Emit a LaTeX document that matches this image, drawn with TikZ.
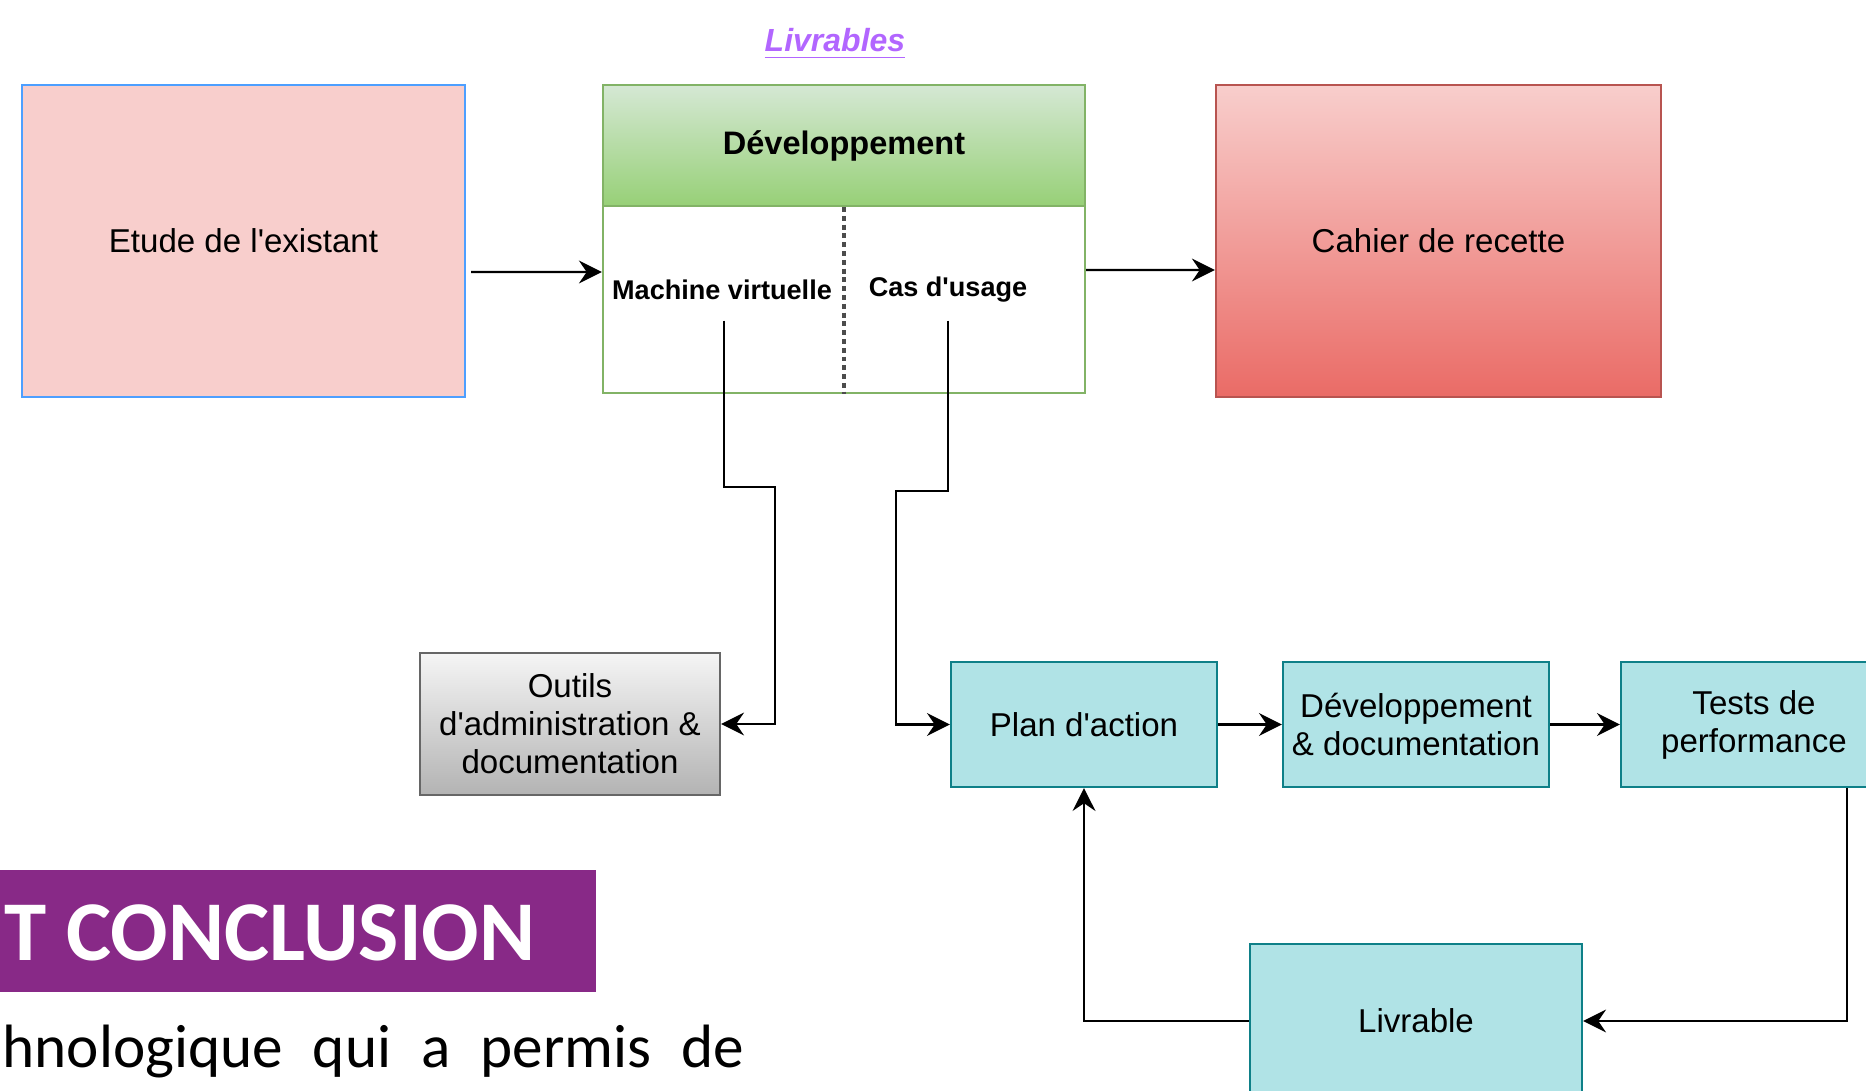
\documentclass[tikz,border=0pt]{standalone}
\usepackage{fontspec}
\setmainfont{Liberation Sans}
\newfontfamily\slidefont{Carlito}
\usetikzlibrary{arrows.meta,%
                calc}

\definecolor{etudefill}{HTML}{F8CECC}
\definecolor{etudeline}{HTML}{4D9FFF}
\definecolor{devline}{HTML}{82B366}
\definecolor{devtop}{HTML}{D5E8D4}
\definecolor{devbot}{HTML}{97D077}
\definecolor{cahline}{HTML}{B85450}
\definecolor{cahtop}{HTML}{F8CECC}
\definecolor{cahbot}{HTML}{EA6B66}
\definecolor{outline}{HTML}{666666}
\definecolor{outtop}{HTML}{F5F5F5}
\definecolor{outbot}{HTML}{B3B3B3}
\definecolor{tealfill}{HTML}{B0E3E6}
\definecolor{tealline}{HTML}{0E8088}
\definecolor{livrcol}{HTML}{B266FF}
\definecolor{bandeau}{HTML}{882987}

\tikzset{
  box/.style={draw, rectangle, inner sep=0pt, align=center, line width=.6pt,
              font=\fontsize{9.4}{10.8}\selectfont},
  tealbox/.style={box, fill=tealfill, draw=tealline,
                  minimum width=2.66cm, minimum height=1.25cm},
  lien/.style={line width=.7pt, -{Stealth[length=6.5pt,width=6.5pt,inset=2.2pt]}},
  souscol/.style={font=\bfseries\fontsize{7.7}{9}\selectfont,
                  minimum height=.6cm, inner sep=0pt}
}

\begin{document}
\begin{tikzpicture}[x=.01cm,y=-.01cm]
      \useasboundingbox (0,0) rectangle (1866,1091);
      \clip (0,0) rectangle (1866,1091);

      \node (titre) at (835,52) [anchor=base, text=livrcol,
        font=\bfseries\itshape\fontsize{9.1}{11}\selectfont] {\underline{Livrables}};

      % ligne du haut
      \node (etude) at (243.5,241) [box, fill=etudefill, draw=etudeline,
        minimum width=4.43cm, minimum height=3.12cm] {Etude de l\textquotesingle existant};
      \node (dev) at (844,239) [box, draw=devline, fill=white,
        minimum width=4.82cm, minimum height=3.08cm] {};
      \node (devhead) at (844,145.5) [box, draw=devline, top color=devtop, bottom color=devbot,
        minimum width=4.82cm, minimum height=1.21cm,
        font=\bfseries\fontsize{9.25}{11}\selectfont] {Développement};
      \node (mv) at (722,290) [souscol] {Machine virtuelle};
      \node (cas) at (948,290) [souscol] {Cas d\textquotesingle usage};
      \node (cahier) at (1438.5,241) [box, draw=cahline, top color=cahtop, bottom color=cahbot,
        minimum width=4.45cm, minimum height=3.12cm] {Cahier de recette};

      \draw [dash pattern=on 1.4pt off 1.1pt, line width=.9pt, black!70]
        (devhead.south) -- (dev.south);

      % ligne du bas
      \node (outils) at (570,724) [box, draw=outline, top color=outtop, bottom color=outbot,
        minimum width=3cm, minimum height=1.42cm]
        {Outils\\d\textquotesingle administration \&\\documentation};
      \node (plan) at (1084,724.5) [tealbox] {Plan d\textquotesingle action};
      \node (devdoc) at (1416,724.5) [tealbox] {Développement\\\& documentation};
      \node (tests) at (1754,724.5) [tealbox] {Tests de\\performance};
      \node (livrable) at (1416,1021) [tealbox, minimum width=3.32cm,
        minimum height=1.54cm] {Livrable};

      \draw[lien, shorten <=1.4pt] ([yshift=-.31cm]etude.east) -- ([yshift=-.33cm]dev.west);
      \draw[lien] ([yshift=-.31cm]dev.east) -- ([yshift=-.29cm]cahier.west);
      \draw[lien] ([xshift=.02cm]mv.south) |- (775,487) |- (outils.east);
      \draw[lien] (cas.south) |- (896,491) |- (plan.west);
      \draw[lien] (plan) -- (devdoc);
      \draw[lien] (devdoc) -- (tests);
      \draw[lien] ($(tests.south)+(93,0)$) |- (livrable.east);
      \draw[lien] (livrable.west) -| (plan.south);

      % bas de la diapo
      \fill[bandeau] (0,870) rectangle (596,992);
      \node (bandtxt) at (536,960) [anchor=base east, inner sep=0pt, text=white,
        font=\slidefont\bfseries\fontsize{24.2}{29}\selectfont] {T CONCLUSION};
      \node (corps) at (2,1067) [anchor=base west, inner sep=0pt,
        font=\slidefont\fontsize{17.4}{21}\selectfont]
        {\hbox to 7.41cm{hnologique\hfill qui\hfill a\hfill permis\hfill de}};

\end{tikzpicture}
\end{document}
